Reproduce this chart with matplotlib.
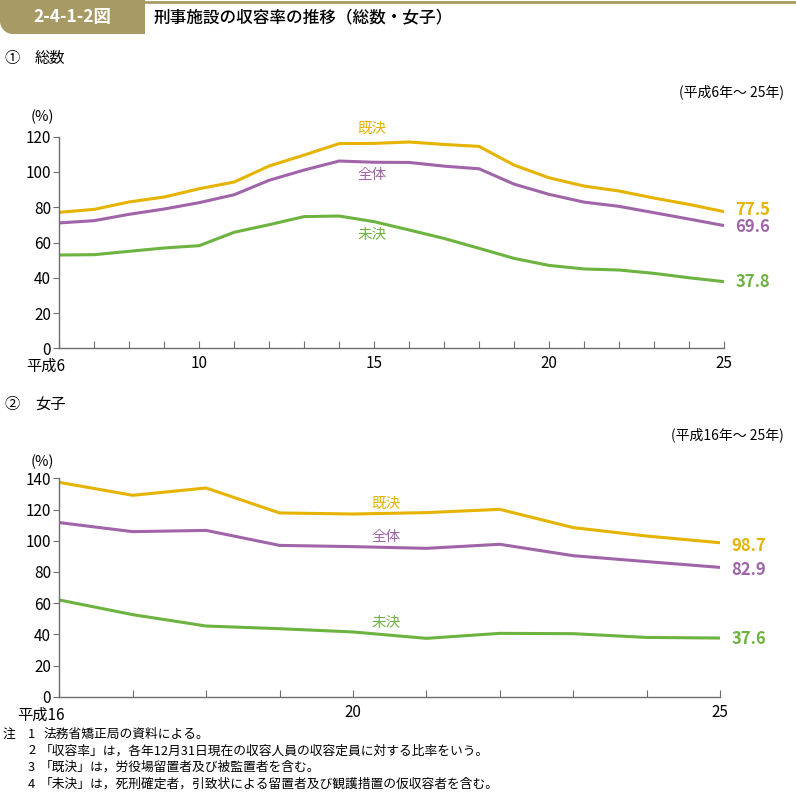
import matplotlib
matplotlib.use("Agg")
import matplotlib.pyplot as plt
import matplotlib.transforms as mtransforms
from matplotlib.patches import Polygon
import numpy as np

plt.rcParams["font.family"] = ["Noto Sans CJK JP", "DejaVu Sans"]

# === Data ===
years_all = list(range(6, 26))  # 平成6年～25年
kiketsu_all = [77.1, 78.8, 83.0, 85.8, 90.5, 94.3, 103.4, 109.6, 116.1, 116.2,
               117.0, 115.6, 114.5, 103.9, 96.7, 92.0, 89.2, 85.2, 81.6, 77.5]
zentai_all = [71.1, 72.4, 76.0, 79.0, 82.6, 87.1, 95.3, 101.1, 106.2, 105.5,
              105.4, 103.3, 101.8, 93.1, 87.3, 82.9, 80.5, 76.9, 73.3, 69.6]
miketsu_all = [52.9, 53.1, 55.0, 56.9, 58.2, 65.8, 70.1, 74.7, 75.0, 71.8,
               67.1, 62.3, 56.7, 51.0, 47.0, 45.0, 44.4, 42.5, 40.0, 37.8]

years_f = list(range(16, 26))  # 平成16年～25年
kiketsu_f = [137.4, 129.1, 133.8, 117.8, 117.1, 118.0, 120.1, 108.4, 103.0, 98.7]
zentai_f = [111.6, 105.8, 106.6, 97.0, 96.2, 95.1, 97.7, 90.4, 86.6, 82.9]
miketsu_f = [62.0, 52.6, 45.3, 43.6, 41.5, 37.4, 40.6, 40.4, 38.0, 37.6]

series_names = ["既決", "全体", "未決"]
colors = ["#E5B300", "#A064A8", "#6DB33F"]

W, H = 796, 793
fig = plt.figure(figsize=(W / 100, H / 100), dpi=100)


def fx(x):
    return x / W


def fy(y):
    return 1 - y / H


# --- header ---
hdr_color = "#A89A64"
fig.add_artist(plt.Line2D([0, 1], [fy(1.5), fy(1.5)], color=hdr_color, lw=2.0))
r = 13
arc = [(fx(r + r * np.cos(a)), fy(34 - r + r * np.sin(a)))
       for a in np.linspace(0.5 * np.pi, np.pi, 14)]
pts = [(fx(0), fy(0)), (fx(145), fy(0)), (fx(145), fy(34))] + arc
fig.add_artist(Polygon(pts, closed=True, facecolor=hdr_color, edgecolor="none",
                       transform=fig.transFigure))
fig.text(fx(72), fy(17), "2-4-1-2図", color="white", fontsize=12.5, fontweight="bold",
         ha="center", va="center")
fig.text(fx(154), fy(17), "刑事施設の収容率の推移（総数・女子）", fontsize=12,
         ha="left", va="center", fontweight="medium")


def draw_panel(rect, years, data, ymax, ystep, xlabels, lab_pos, end_offsets):
    ax = fig.add_axes(rect)
    for vals, c in zip(data, colors):
        ax.plot(years, vals, color=c, lw=2.2, solid_joinstyle="round")
    ax.set_xlim(years[0], years[-1])
    ax.set_ylim(0, ymax)
    ax.set_yticks(range(0, ymax + 1, ystep))
    ax.set_xticks(years)
    ax.set_xticklabels([xlabels.get(y, "") for y in years])
    for s in ["top", "right"]:
        ax.spines[s].set_visible(False)
    for s in ["left", "bottom"]:
        ax.spines[s].set_color("#6E6E6E")
        ax.spines[s].set_linewidth(1.0)
    ax.tick_params(axis="x", direction="in", length=5, color="#6E6E6E",
                   labelsize=11, pad=5)
    ax.tick_params(axis="y", direction="out", length=4, color="#6E6E6E",
                   labelsize=11, pad=2)
    first = ax.get_xticklabels()[0]
    first.set_ha("right")
    first.set_transform(first.get_transform() +
                        mtransforms.ScaledTranslation(4 / 72, -2 / 72, fig.dpi_scale_trans))
    ax.patch.set_alpha(0)
    for name, c, (lx, ly) in zip(series_names, colors, lab_pos):
        ax.text(lx, ly, name, color=c, fontsize=10.5, ha="center", va="center")
    for vals, c, dy in zip(data, colors, end_offsets):
        ax.annotate(f"{vals[-1]:.1f}", xy=(years[-1], vals[-1]), xytext=(8, dy),
                    textcoords="offset points", color=c, fontsize=12,
                    fontweight="bold", ha="left", va="center", annotation_clip=False)
    return ax


# --- panel 1 ---
fig.text(fx(4), fy(58), "①", fontsize=11, ha="left", va="center")
fig.text(fx(35), fy(58), "総数", fontsize=11, ha="left", va="center")
fig.text(fx(784), fy(92), "(平成6年～ 25年)", fontsize=10, ha="right", va="center")
fig.text(fx(31), fy(117), "(%)", fontsize=10.5, ha="left", va="center")
draw_panel([fx(59.3), fy(348.3), fx(724) - fx(59.3), (348.3 - 136.7) / H],
           years_all, [kiketsu_all, zentai_all, miketsu_all], 120, 20,
           {6: "平成6", 10: "10", 15: "15", 20: "20", 25: "25"},
           [(14.95, 124.5), (14.95, 98.5), (14.95, 64.5)], [1, -1, 0])

# --- panel 2 ---
fig.text(fx(4), fy(405), "②", fontsize=11, ha="left", va="center")
fig.text(fx(35), fy(405), "女子", fontsize=11, ha="left", va="center")
fig.text(fx(784), fy(435), "(平成16年～ 25年)", fontsize=10, ha="right", va="center")
fig.text(fx(31), fy(462), "(%)", fontsize=10.5, ha="left", va="center")
draw_panel([fx(59.3), fy(696.7), fx(720) - fx(59.3), (696.7 - 478.3) / H],
           years_f, [kiketsu_f, zentai_f, miketsu_f], 140, 20,
           {16: "平成16", 20: "20", 25: "25"},
           [(20.45, 123.5), (20.45, 102.5), (20.45, 47.5)], [-2, -2, -1])

# --- notes ---
notes = [
    ("注", "1", "法務省矯正局の資料による。"),
    ("", "2", "「収容率」は，各年12月31日現在の収容人員の収容定員に対する比率をいう。"),
    ("", "3", "「既決」は，労役場留置者及び被監置者を含む。"),
    ("", "4", "「未決」は，死刑確定者，引致状による留置者及び観護措置の仮収容者を含む。"),
]
for i, (a, b, c) in enumerate(notes):
    yy = fy(734 + i * 16.7)
    if a:
        fig.text(fx(3), yy, a, fontsize=9.2, ha="left", va="center")
    fig.text(fx(28), yy, b, fontsize=9.2, ha="left", va="center")
    cx = 44 if i == 0 else 40
    fig.text(fx(cx), yy, c, fontsize=9.2, ha="left", va="center")

fig.savefig("out.png", dpi=100)
